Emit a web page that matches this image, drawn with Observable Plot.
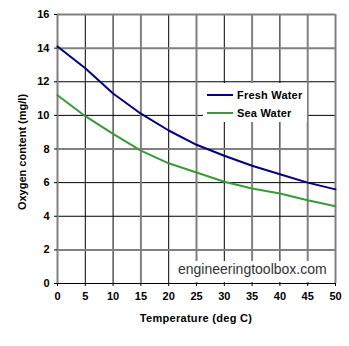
<!DOCTYPE html>
<html>
<head>
<meta charset="utf-8">
<script src="https://cdn.jsdelivr.net/npm/d3@7"></script>
<script src="https://cdn.jsdelivr.net/npm/@observablehq/plot@0.6"></script>
<style>
  html, body { margin: 0; padding: 0; background: #fff; color: #000; }
  #chart { position: relative; width: 349px; height: 346px; font-family: 'Liberation Sans', Arial, sans-serif; }
  #chart svg { display: block; }
  .ov { position: absolute; white-space: nowrap; }
  .title { font-size: 11px; font-weight: bold; line-height: 16px; height: 16px; text-align: center; color: #000; }
  .legend { background: #fff; }
  .lgrow { position: absolute; left: 4px; height: 16px; line-height: 16px; font-size: 11px; font-weight: bold; letter-spacing: 0.2px; }
  .swatch { position: absolute; left: 0; top: 7px; width: 26px; height: 2px; }
  .lglabel { position: absolute; left: 30px; top: 0; }
  .wm { background: #fff; font-size: 14px; line-height: 16px; color: #333; padding: 0 0 0 3px; box-sizing: border-box; }
</style>
</head>
<body>
<div id="chart"></div>
<script>
// ---- data ----
const temperature = [0, 5, 10, 15, 20, 25, 30, 35, 40, 45, 50];
const freshWater  = [14.1, 12.8, 11.3, 10.1, 9.1, 8.25, 7.6, 7.0, 6.5, 6.0, 5.6];
const seaWater    = [11.2, 9.95, 8.9, 7.9, 7.15, 6.6, 6.05, 5.65, 5.35, 4.95, 4.6];
const xTicks = [0, 5, 10, 15, 20, 25, 30, 35, 40, 45, 50];
const yTicks = [0, 2, 4, 6, 8, 10, 12, 14, 16];
const seriesNames = ["Fresh Water", "Sea Water"];
const seriesColors = ["#000080", "#3a9a3a"];
const xTitle = "Temperature (deg C)";
const yTitle = "Oxygen content (mg/l)";
const watermark = "engineeringtoolbox.com";

// gridline styling (gray/thicker vs black/thin as seen in the picture)
const grayX = [0, 15, 25, 35, 45, 50];
const grayY = [2, 8, 14, 16];
const blackX = xTicks.filter(v => !grayX.includes(v));
const blackY = yTicks.filter(v => !grayY.includes(v));

const rows = [];
temperature.forEach((t, i) => rows.push({t, v: freshWater[i], s: seriesNames[0]}));
temperature.forEach((t, i) => rows.push({t, v: seaWater[i], s: seriesNames[1]}));

const font = "'Liberation Sans', Arial, sans-serif";

const svg = Plot.plot({
  width: 349,
  height: 346,
  marginLeft: 57,
  marginRight: 14,
  marginTop: 14,
  marginBottom: 63,
  style: {fontFamily: font, fontSize: "11px", fontWeight: "bold"},
  x: {domain: [0, 50]},
  y: {domain: [0, 16]},
  color: {domain: seriesNames, range: seriesColors},
  marks: [
    Plot.ruleX(blackX, {x: d => d, stroke: "#000", strokeWidth: 1}),
    Plot.ruleY(blackY, {y: d => d, stroke: "#000", strokeWidth: 1}),
    Plot.ruleX(grayX, {x: d => d, stroke: "#808080", strokeWidth: 2}),
    Plot.ruleY(grayY, {y: d => d, stroke: "#808080", strokeWidth: 2}),
    Plot.axisX({ticks: xTicks, tickSize: 3, tickPadding: 6, label: null}),
    Plot.axisY({tickSize: 3, tickPadding: 5, label: null}),
    Plot.line(rows, {x: "t", y: "v", z: "s", stroke: "s", strokeWidth: 2})
  ]
});

const chart = document.getElementById("chart");
chart.appendChild(svg);

// axis titles (HTML overlays)
const xt = document.createElement("div");
xt.className = "ov title";
xt.style.cssText = "left:57px;width:278px;top:310px;letter-spacing:0.3px;";
xt.textContent = xTitle;
chart.appendChild(xt);

const yt = document.createElement("div");
yt.className = "ov title";
yt.style.cssText = "left:-78px;width:200px;top:143.5px;transform:rotate(-90deg);";
yt.textContent = yTitle;
chart.appendChild(yt);

// legend (white box inside the plot)
const lg = document.createElement("div");
lg.className = "ov legend";
lg.style.cssText = "left:203px;top:83px;width:104px;height:39px;";
seriesNames.forEach((label, i) => {
  const row = document.createElement("div");
  row.className = "lgrow";
  row.style.top = (3.5 + i * 18) + "px";
  const sw = document.createElement("div");
  sw.className = "swatch";
  sw.style.background = seriesColors[i];
  const tx = document.createElement("span");
  tx.className = "lglabel";
  tx.textContent = label;
  row.appendChild(sw);
  row.appendChild(tx);
  lg.appendChild(row);
});
chart.appendChild(lg);

// watermark
const wm = document.createElement("div");
wm.className = "ov wm";
wm.style.cssText = "left:175px;top:261px;width:157px;height:21px;";
wm.textContent = watermark;
chart.appendChild(wm);
</script>
</body>
</html>
